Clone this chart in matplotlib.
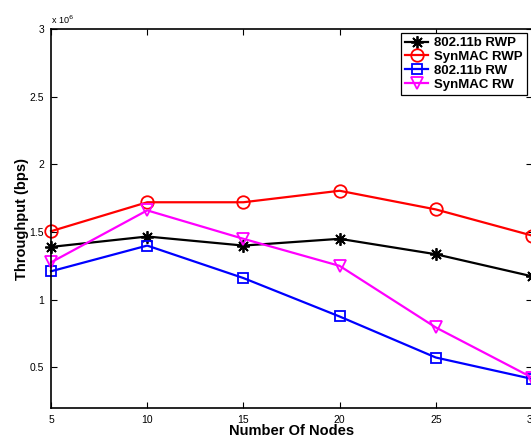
"""Throughput vs number of nodes for 802.11b and SynMAC (RWP / RW mobility)."""

import matplotlib

matplotlib.use("Agg")
import matplotlib.pyplot as plt

plt.rcParams["font.family"] = ["Liberation Sans", "DejaVu Sans"]

# number of nodes
nodes = [5, 10, 15, 20, 25, 30]

# throughput, in units of 10^6 bps
ieee_rwp = [1.39, 1.467, 1.40, 1.45, 1.336, 1.173]
synmac_rwp = [1.506, 1.72, 1.72, 1.805, 1.667, 1.474]
ieee_rw = [1.21, 1.40, 1.16, 0.876, 0.573, 0.415]
synmac_rw = [1.276, 1.66, 1.45, 1.25, 0.795, 0.425]

series_labels = ["802.11b RWP", "SynMAC RWP", "802.11b RW", "SynMAC RW"]
y_ticks = [0.5, 1, 1.5, 2, 2.5, 3]
y_tick_labels = ["0.5", "1", "1.5", "2", "2.5", "3"]


def main() -> None:
    fig = plt.figure(figsize=(5.31, 4.38), dpi=100)
    ax = fig.add_axes([51 / 531, 1 - 408 / 438, (532 - 51) / 531, (408 - 29) / 438])

    lw = 1.6
    ax.plot(nodes, ieee_rwp, color="black", lw=lw, marker=(8, 2, 0), ms=9,
            mew=1.3, label=series_labels[0], clip_on=False)
    ax.plot(nodes, synmac_rwp, color="red", lw=lw, marker="o", ms=9,
            mfc="none", mew=1.3, label=series_labels[1], clip_on=False)
    ax.plot(nodes, ieee_rw, color="blue", lw=lw, marker="s", ms=7,
            mfc="none", mew=1.3, label=series_labels[2], clip_on=False)
    ax.plot(nodes, synmac_rw, color="magenta", lw=lw, marker="v", ms=9,
            mfc="none", mew=1.3, label=series_labels[3], clip_on=False)

    ax.set_xlim(5, 30)
    ax.set_ylim(0.2, 3)
    ax.set_xticks(nodes)
    ax.set_yticks(y_ticks)
    ax.set_yticklabels(y_tick_labels)
    ax.tick_params(direction="in", top=True, right=True, length=4,
                   width=0.8, labelsize=7.5, pad=5)
    for spine in ax.spines.values():
        spine.set_linewidth(1.2)

    ax.set_xlabel("Number Of Nodes", fontsize=10.5, fontweight="bold", labelpad=-0.5)
    ax.set_ylabel("Throughput (bps)", fontsize=10.5, fontweight="bold", labelpad=0.5)
    ax.text(0.0, 1.008, r"x 10$^{6}$", transform=ax.transAxes, fontsize=6.5,
            ha="left", va="bottom")

    leg = ax.legend(loc="upper right", bbox_to_anchor=(527 / 531, 1 - 33 / 438),
                    bbox_transform=fig.transFigure, fancybox=False,
                    edgecolor="black", framealpha=1, borderaxespad=0,
                    prop={"weight": "bold", "size": 9.5}, handlelength=1.7,
                    handletextpad=0.5, labelspacing=0.12, borderpad=0.3)
    leg.get_frame().set_linewidth(0.9)

    fig.savefig("out.png", dpi=100)


if __name__ == "__main__":
    main()
